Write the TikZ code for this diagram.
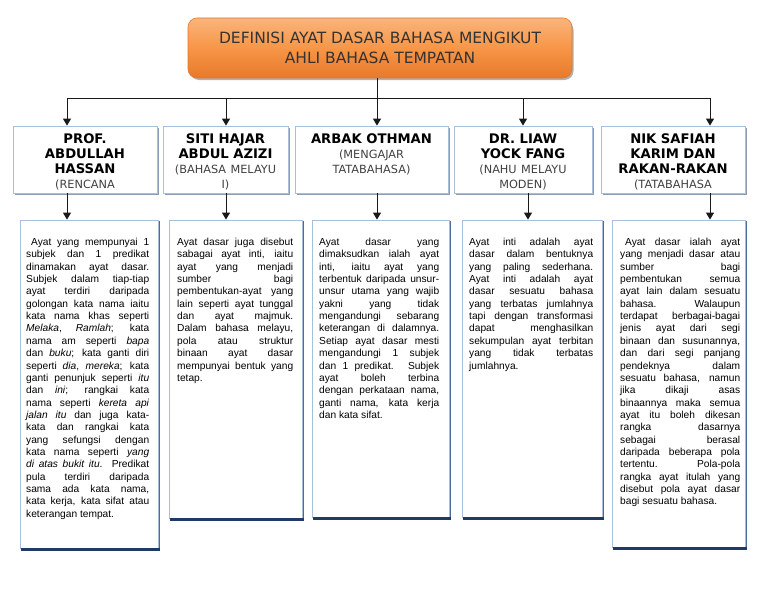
\documentclass[tikz,border=0pt]{standalone}
\usepackage{fontspec}
\setmainfont{Liberation Sans}
\newfontfamily\dejavu{DejaVu Sans}
\usetikzlibrary{arrows.meta,calc}
\definecolor{orA}{HTML}{FAB47C}
\definecolor{orB}{HTML}{F79646}
\definecolor{orC}{HTML}{E8792C}
\definecolor{orEdge}{HTML}{E07A30}
\definecolor{boxEdge}{HTML}{A7BFDD}
\definecolor{navy}{HTML}{1F3A64}
\definecolor{navyR}{HTML}{4A6A98}
\definecolor{hshadow}{HTML}{8C9DB3}
\definecolor{subc}{HTML}{404040}
\definecolor{titc}{HTML}{333333}
\newcommand\subt[1]{{\mdseries\fontsize{11.3}{15}\selectfont\color{subc}#1}}
\begin{document}
\begin{tikzpicture}[x=1pt,y=-1pt,
  titlebox/.style={draw=orEdge, line width=0.6pt, rounded corners=9pt,
    top color=orA, bottom color=orC, middle color=orB,
    minimum width=384, minimum height=60, align=center, text=titc,
    font=\dejavu\fontsize{15.5}{19.5}\selectfont},
  hbox/.style={draw=boxEdge, line width=0.8pt, fill=white, inner sep=0},
  tbox/.style={draw=boxEdge, line width=0.8pt, fill=white, inner sep=0},
  htext/.style={anchor=base, text width=#1, align=center, inner sep=0,
    font=\dejavu\bfseries\fontsize{13.2}{15}\selectfont},
  body/.style={anchor=base west, text width=#1, align=justify, inner sep=0,
    font=\fontsize{10.2}{12.35}\selectfont},
  conn/.style={line width=1pt, draw=black!90},
  arr/.style={conn, -{Triangle[width=8pt,length=7pt]}},
  hshad/.style={draw=hshadow, line width=1.6pt},
  tshadB/.style={draw=navy, line width=2.2pt},
  tshadR/.style={draw=navyR, line width=1.3pt},
]
\hyphenpenalty=10000 \exhyphenpenalty=10000 \tolerance=9999 \hbadness=10000
\useasboundingbox[fill=white] (0,0) rectangle (768,594);

% title (with soft shadow)
\fill[black!30, rounded corners=9pt] (190,21) rectangle (573.5,80);
\node[titlebox] (title) at (380,48) {DEFINISI AYAT DASAR BAHASA MENGIKUT\\AHLI BAHASA TEMPATAN};

% header boxes
\node[hbox, minimum width=144, minimum height=67] (h1) at (85,159.5) {};
\node[hbox, minimum width=125, minimum height=67] (h2) at (225.5,159.5) {};
\node[hbox, minimum width=153, minimum height=67] (h3) at (371.5,159.5) {};
\node[hbox, minimum width=138, minimum height=67] (h4) at (523,159.5) {};
\node[hbox, minimum width=144, minimum height=67] (h5) at (673,159.5) {};
\foreach \h in {h1,h2,h3,h4,h5} {
  \draw[hshad] ([xshift=2pt,yshift=-1.2pt]\h.south west) -- ([xshift=1.2pt,yshift=-1.2pt]\h.south east) -- ([xshift=1.2pt,yshift=-2pt]\h.north east);
}

\node[htext=136] (n1) at ([yshift=-17.5pt]h1.north) {PROF.\\ABDULLAH\\HASSAN\\\subt{(RENCANA}};
\node[htext=120] (n2) at ([yshift=-17.5pt]h2.north) {SITI HAJAR\\ABDUL AZIZI\\\subt{(BAHASA MELAYU}\\\subt{I)}};
\node[htext=146] (n3) at ([yshift=-17.5pt]h3.north) {ARBAK OTHMAN\\\subt{(MENGAJAR}\\\subt{TATABAHASA)}};
\node[htext=130] (n4) at ([yshift=-17.5pt]h4.north) {DR. LIAW\\YOCK FANG\\\subt{(NAHU MELAYU}\\\subt{MODEN)}};
\node[htext=136] (n5) at ([yshift=-17.5pt]h5.north) {NIK SAFIAH\\KARIM DAN\\RAKAN-RAKAN\\\subt{(TATABAHASA}};

% text boxes
\node[tbox, minimum width=138, minimum height=328] (t1) at (89,384) {};
\node[tbox, minimum width=133, minimum height=298] (t2) at (235.5,369) {};
\node[tbox, minimum width=137, minimum height=297] (t3) at (380.5,368.5) {};
\node[tbox, minimum width=140, minimum height=297] (t4) at (532,368.5) {};
\node[tbox, minimum width=133, minimum height=327] (t5) at (678.5,383.5) {};
\foreach \t in {t1,t2,t3,t4,t5} {
  \draw[tshadR] ([xshift=0.9pt,yshift=-1pt]\t.north east) -- ([xshift=0.9pt]\t.south east);
  \draw[tshadB] ([xshift=1pt,yshift=-1.1pt]\t.south west) -- ([xshift=1.6pt,yshift=-1.1pt]\t.south east);
}

\node[body=123] (b1) at (26,245.5) {\hspace*{5pt}Ayat yang mempunyai 1\linebreak
subjek dan 1 predikat\linebreak
dinamakan ayat dasar.\linebreak
Subjek dalam tiap-tiap\linebreak
ayat terdiri daripada\linebreak
golongan kata nama iaitu\linebreak
kata nama khas seperti\linebreak
\textit{Melaka}, \textit{Ramlah}; kata\linebreak
nama am seperti \textit{bapa}\linebreak
dan \textit{buku}; kata ganti diri\linebreak
seperti \textit{dia}, \textit{mereka}; kata\linebreak
ganti penunjuk seperti \textit{itu}\linebreak
dan \textit{ini}; rangkai kata\linebreak
nama seperti \textit{kereta api}\linebreak
\textit{jalan itu} dan juga kata-\linebreak
kata dan rangkai kata\linebreak
yang sefungsi dengan\linebreak
kata nama seperti \textit{yang}\linebreak
\textit{di atas bukit itu}. Predikat\linebreak
pula terdiri daripada\linebreak
sama ada kata nama,\linebreak
kata kerja, kata sifat atau\linebreak
keterangan tempat.};

\node[body=116] (b2) at (177,245.5) {Ayat dasar juga disebut\linebreak
sabagai ayat inti, iaitu\linebreak
ayat yang menjadi\linebreak
sumber bagi\linebreak
pembentukan-ayat yang\linebreak
lain seperti ayat tunggal\linebreak
dan ayat majmuk.\linebreak
Dalam bahasa melayu,\linebreak
pola atau struktur\linebreak
binaan ayat dasar\linebreak
mempunyai bentuk yang\linebreak
tetap.};

\node[body=120] (b3) at (319,245.5) {Ayat dasar yang\linebreak
dimaksudkan ialah ayat\linebreak
inti, iaitu ayat yang\linebreak
terbentuk daripada unsur-\linebreak
unsur utama yang wajib\linebreak
yakni yang tidak\linebreak
mengandungi sebarang\linebreak
keterangan di dalamnya.\linebreak
Setiap ayat dasar mesti\linebreak
mengandungi 1 subjek\linebreak
dan 1 predikat. Subjek\linebreak
ayat boleh terbina\linebreak
dengan perkataan nama,\linebreak
ganti nama, kata kerja\linebreak
dan kata sifat.};

\node[body=124] (b4) at (469,245.5) {Ayat inti adalah ayat\linebreak
dasar dalam bentuknya\linebreak
yang paling sederhana.\linebreak
Ayat inti adalah ayat\linebreak
dasar sesuatu bahasa\linebreak
yang terbatas jumlahnya\linebreak
tapi dengan transformasi\linebreak
dapat menghasilkan\linebreak
sekumpulan ayat terbitan\linebreak
yang tidak terbatas\linebreak
jumlahnya.};

\node[body=120] (b5) at (620,245.5) {\hspace*{5pt}Ayat dasar ialah ayat\linebreak
yang menjadi dasar atau\linebreak
sumber bagi\linebreak
pembentukan semua\linebreak
ayat lain dalam sesuatu\linebreak
bahasa. Walaupun\linebreak
terdapat berbagai-bagai\linebreak
jenis ayat dari segi\linebreak
binaan dan susunannya,\linebreak
dan dari segi panjang\linebreak
pendeknya dalam\linebreak
sesuatu bahasa, namun\linebreak
jika dikaji asas\linebreak
binaannya maka semua\linebreak
ayat itu boleh dikesan\linebreak
rangka dasarnya\linebreak
sebagai berasal\linebreak
daripada beberapa pola\linebreak
tertentu. Pola-pola\linebreak
rangka ayat itulah yang\linebreak
disebut pola ayat dasar\linebreak
bagi sesuatu bahasa.};

% connectors
\coordinate (j1) at (67,98);
\coordinate (j2) at (226,98);
\coordinate (j3) at (377,98);
\coordinate (j4) at (523,98);
\coordinate (j5) at (710,98);
\coordinate (a1) at (67,0);
\coordinate (a2) at (226,0);
\coordinate (a3) at (377,0);
\coordinate (a4) at (528,0);
\coordinate (a5) at (710,0);

\draw[conn] (title.south -| j3) -- (j3);
\draw[conn] (j1) -- (j5);
\foreach \i in {1,...,5} {
  \draw[arr] (j\i) -- (j\i |- h\i.north);
  \draw[arr] (a\i |- h\i.south) -- (a\i |- t\i.north);
}
\end{tikzpicture}
\end{document}
